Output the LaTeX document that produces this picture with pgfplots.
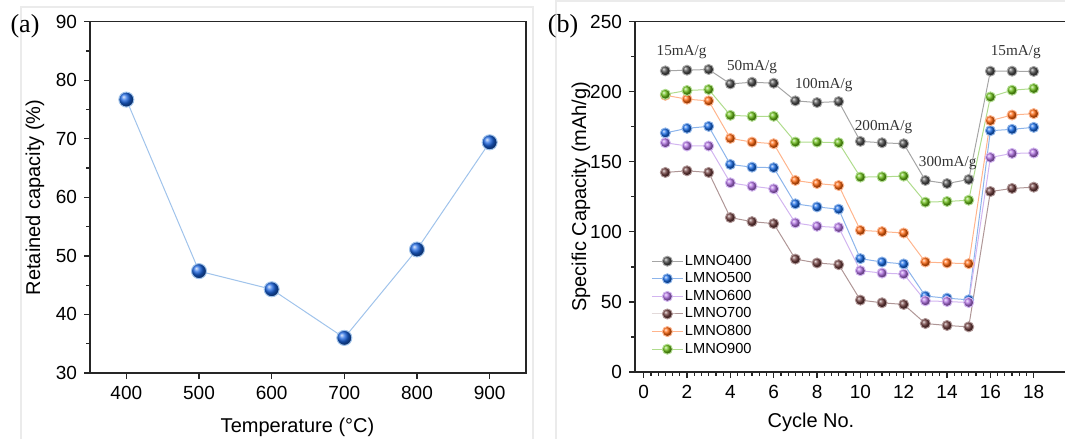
\documentclass[border=0pt]{standalone}
\usepackage{fontspec}
\setmainfont{Liberation Sans}
\newfontfamily\tnr{Liberation Serif}
\usepackage{pgfplots}
\pgfplotsset{compat=1.18}
\definecolor{ablue}{RGB}{25,100,225}
\definecolor{aline}{RGB}{160,195,235}
\definecolor{b4}{RGB}{75,75,75}\definecolor{l4}{RGB}{165,165,165}
\definecolor{b5}{RGB}{20,105,230}\definecolor{l5}{RGB}{140,180,235}
\definecolor{b6}{RGB}{175,110,225}\definecolor{l6}{RGB}{210,180,240}
\definecolor{b7}{RGB}{110,60,60}\definecolor{l7}{RGB}{175,150,150}
\definecolor{b8}{RGB}{255,100,10}\definecolor{l8}{RGB}{255,180,140}
\definecolor{b9}{RGB}{105,190,20}\definecolor{l9}{RGB}{175,220,140}
\pgfplotsset{
  common/.style={
    scale only axis,
    tick pos=left, tick align=outside,
    major tick length=3pt, minor tick length=1.8pt,
    axis line style={line width=0.65pt, black!85},
    tick style={line width=0.6pt, black!85},
    ticklabel style={font=\fontsize{9.5}{11}\selectfont},
    label style={font=\fontsize{9.3}{11}\selectfont},
    /pgf/number format/assume math mode=true,
  }
}
\begin{document}
\begin{tikzpicture}
\draw[black!8, line width=0.6pt] (10.5pt,0pt) -- (10.5pt,216pt) -- (266.5pt,216pt) -- (266.5pt,0pt);
\draw[black!8, line width=0.6pt] (278pt,0pt) -- (278pt,219pt) -- (533pt,219pt);
\node[font=\tnr\fontsize{13}{15}\selectfont] at (12.5pt,206.25pt) {(a)};
\node[font=\tnr\fontsize{13}{15}\selectfont] at (281.5pt,206.25pt) {(b)};
\begin{axis}[common,
  width=218pt, height=175.65pt, at={(45pt,33pt)}, anchor=south west,
  xmin=350, xmax=950, ymin=30, ymax=90,
  xtick={400,500,...,900}, ytick={30,40,...,90}, minor y tick num=1,
  xlabel={Temperature (°C)}, ylabel={Retained capacity (\%)},
  every axis x label/.style={at={(axis description cs:0.476,-0.154)}, anchor=center},
  every axis y label/.style={at={(axis description cs:-0.126,0.5)}, rotate=90, anchor=center},
]
\addplot[color=aline, line width=0.5pt, mark=ball, mark size=3.75pt, mark options={ball color=ablue}]
  coordinates {(400,76.7) (500,47.4) (600,44.3) (700,36.0) (800,51.1) (900,69.4)};
\end{axis}
\begin{axis}[common,
  width=216.7pt, height=175.15pt, at={(317.5pt,33.5pt)}, anchor=south west,
  xmin=-0.4, xmax=19.6, ymin=0, ymax=250,
  xtick={0,2,...,18}, minor x tick num=5, ytick={0,50,...,250}, minor y tick num=1,
  xlabel={Cycle No.}, ylabel={Specific Capacity (mAh/g)},
  every axis x label/.style={at={(axis description cs:0.406,-0.143)}, anchor=center},
  every axis y label/.style={at={(axis description cs:-0.125,0.5)}, rotate=90, anchor=center},
  legend style={at={(axis description cs:0.023,0.354)}, anchor=north west, draw=none, fill=none,
    font=\fontsize{7.3}{8}\selectfont, row sep=0pt,
    nodes={inner sep=0.8pt, text height=5.6pt, text depth=1.6pt}},
  legend cell align=left,
  legend image code/.code={\draw[mark repeat=2,mark phase=2,#1] plot coordinates {(0pt,0pt) (7.75pt,0pt) (15.5pt,0pt)};},
  every axis plot/.append style={line width=0.5pt, mark=ball, mark size=2.5pt},
]
\addplot[color=l4, mark options={ball color=b4}] coordinates {
(1,214.9)(2,215.4)(3,215.9)(4,205.6)(5,206.8)(6,206.1)(7,193.5)(8,192.3)(9,193.0)
(10,164.6)(11,163.6)(12,162.9)(13,136.7)(14,134.5)(15,137.4)(16,214.7)(17,214.7)(18,214.5)};
\addlegendentry{LMNO400}
\addplot[color=l5, mark options={ball color=b5}] coordinates {
(1,170.6)(2,173.9)(3,175.3)(4,148.1)(5,146.2)(6,145.8)(7,120.0)(8,117.8)(9,116.2)
(10,80.9)(11,78.5)(12,77.1)(13,54.2)(14,52.7)(15,51.5)(16,172.2)(17,173.2)(18,174.6)};
\addlegendentry{LMNO500}
\addplot[color=l6, mark options={ball color=b6}] coordinates {
(1,163.6)(2,161.3)(3,161.3)(4,135.0)(5,132.6)(6,130.7)(7,106.4)(8,104.0)(9,103.1)
(10,72.3)(11,70.6)(12,69.9)(13,50.8)(14,50.3)(15,49.6)(16,153.1)(17,156.0)(18,156.3)};
\addlegendentry{LMNO600}
\addplot[color=l7, mark options={ball color=b7}] coordinates {
(1,142.4)(2,143.6)(3,142.4)(4,110.2)(5,107.3)(6,105.9)(7,80.6)(8,77.8)(9,76.6)
(10,51.3)(11,49.4)(12,48.2)(13,34.6)(14,33.2)(15,32.2)(16,128.8)(17,131.0)(18,131.9)};
\addlegendentry{LMNO700}
\addplot[color=l8, mark options={ball color=b8}] coordinates {
(1,197.5)(2,194.7)(3,193.5)(4,166.7)(5,164.1)(6,162.9)(7,136.7)(8,134.5)(9,133.1)
(10,101.1)(11,100.2)(12,99.2)(13,78.5)(14,77.8)(15,77.3)(16,179.4)(17,183.4)(18,184.4)};
\addlegendentry{LMNO800}
\addplot[color=l9, mark options={ball color=b9}] coordinates {
(1,198.2)(2,200.9)(3,201.6)(4,183.2)(5,182.5)(6,182.5)(7,164.1)(8,164.1)(9,163.6)
(10,139.1)(11,139.3)(12,139.8)(13,121.2)(14,121.7)(15,122.6)(16,196.3)(17,201.1)(18,202.3)};
\addlegendentry{LMNO900}
\begin{scope}[every node/.style={font=\tnr\fontsize{7.6}{9}\selectfont, text=black!80}]
\node at (axis cs:1.75,228.3) {15mA/g};
\node at (axis cs:5.0,217.6) {50mA/g};
\node at (axis cs:8.31,204.8) {100mA/g};
\node at (axis cs:11.07,174.8) {200mA/g};
\node at (axis cs:14.03,149.0) {300mA/g};
\node at (axis cs:17.17,228.3) {15mA/g};
\end{scope}
\end{axis}
\pgfresetboundingbox
\path[use as bounding box] (0pt,0pt) rectangle (532.5pt,219.5pt);
\end{tikzpicture}
\end{document}
